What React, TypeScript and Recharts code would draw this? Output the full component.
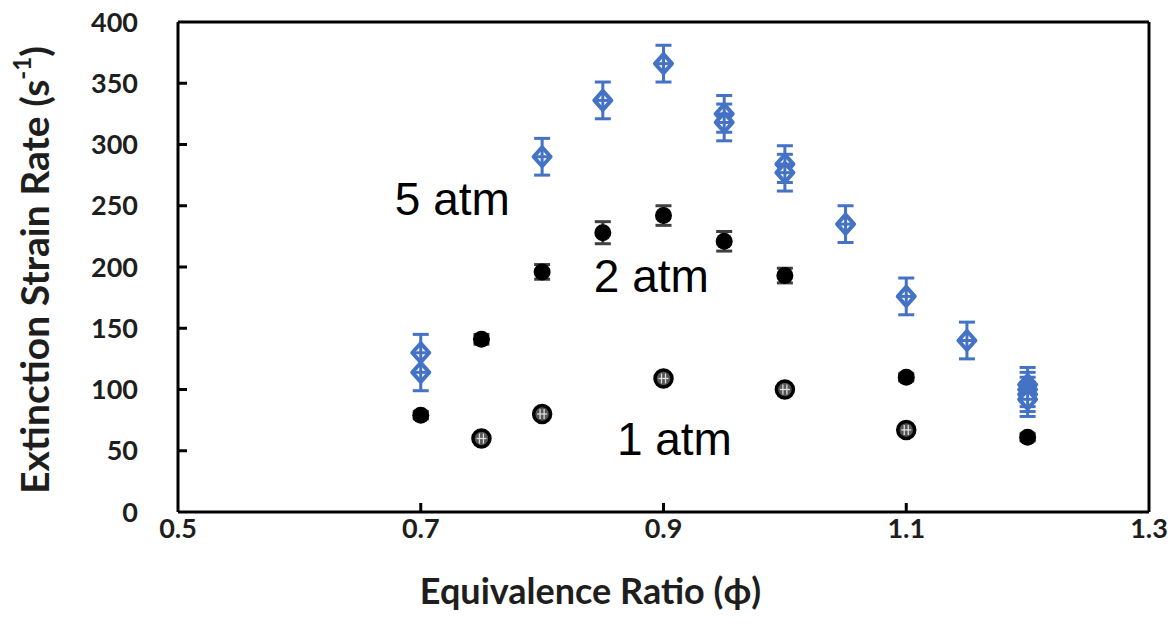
import {
  ScatterChart,
  Scatter,
  XAxis,
  YAxis,
  ErrorBar,
  ReferenceLine,
  ReferenceDot,
} from "recharts";

// 5 atm (blue diamonds)
const phi5 = [0.7, 0.7, 0.8, 0.85, 0.9, 0.95, 0.95, 1.0, 1.0, 1.05, 1.1, 1.15, 1.2, 1.2, 1.2, 1.2];
const rate5 = [130, 114, 290, 336, 366, 325, 318, 284, 277, 235, 176, 140, 104, 100, 96, 92];
const err5 = [15, 15, 15, 15, 15, 15, 15, 15, 15, 15, 15, 15, 14, 14, 14, 14];

// 2 atm (filled black circles)
const phi2 = [0.7, 0.75, 0.8, 0.85, 0.9, 0.95, 1.0, 1.1, 1.2];
const rate2 = [79, 141, 196, 228, 242, 221, 193, 110, 61];
const err2 = [3, 4, 6, 9, 8, 8, 6, 3, 3];

// 1 atm (open circles)
const phi1 = [0.75, 0.8, 0.9, 1.0, 1.1];
const rate1 = [60, 80, 109, 100, 67];
const err1 = [3, 3, 3, 3, 3];

const xTicks = [0.5, 0.7, 0.9, 1.1, 1.3];
const xInnerTicks = [0.7, 0.9, 1.1];
const yTicks = [0, 50, 100, 150, 200, 250, 300, 350, 400];
const yInnerTicks = [50, 100, 150, 200, 250, 300, 350];

const notes = [
  { text: "5 atm", phi: 0.726, rate: 256 },
  { text: "2 atm", phi: 0.89, rate: 193 },
  { text: "1 atm", phi: 0.909, rate: 60 },
];

const toRows = (xs: number[], ys: number[], es: number[]) =>
  xs.map((x, i) => ({ x, y: ys[i], err: es[i] }));

const data5 = toRows(phi5, rate5, err5);
const data2 = toRows(phi2, rate2, err2);
const data1 = toRows(phi1, rate1, err1);

// anchors for the inward tick marks on the bottom and left borders
const bottomTickRows = xInnerTicks.map((x) => ({ x, y: 0 }));
const leftTickRows = yInnerTicks.map((y) => ({ x: 0.5, y }));

const BLUE = "#4472C4";
const INK = "#1e1e1e";
const FONT = "Lato, 'Open Sans', sans-serif";
const TICK_LEN = 9;
const frame = { stroke: "#000", strokeWidth: 3 };

const DiamondMark = (props: any) => {
  const { cx, cy } = props;
  const r = 9.5;
  return (
    <g>
      <path
        d={`M${cx},${cy - r} L${cx + r - 1},${cy} L${cx},${cy + r} L${cx - r + 1},${cy} Z`}
        fill="#fff"
        stroke={BLUE}
        strokeWidth={4}
        strokeLinejoin="round"
      />
      <line x1={cx - 6} y1={cy} x2={cx + 6} y2={cy} stroke={BLUE} strokeWidth={3} />
      <line x1={cx} y1={cy - 7} x2={cx} y2={cy + 7} stroke={BLUE} strokeWidth={3} />
    </g>
  );
};

const FilledMark = (props: any) => {
  const { cx, cy } = props;
  return <circle cx={cx} cy={cy} r={8.5} fill="#000" />;
};

const OpenMark = (props: any) => {
  const { cx, cy } = props;
  return (
    <g>
      <circle cx={cx} cy={cy} r={8.5} fill="#555" stroke="#000" strokeWidth={3.5} />
      <line x1={cx - 2} y1={cy - 5} x2={cx - 2} y2={cy + 5} stroke="#ddd" strokeWidth={1.3} />
      <line x1={cx + 2} y1={cy - 5} x2={cx + 2} y2={cy + 5} stroke="#ddd" strokeWidth={1.3} />
      <line x1={cx - 5} y1={cy} x2={cx + 5} y2={cy} stroke="#ddd" strokeWidth={1.3} />
    </g>
  );
};

const UpTick = (props: any) => {
  const { cx, cy } = props;
  return <line x1={cx} y1={cy} x2={cx} y2={cy - TICK_LEN} stroke="#000" strokeWidth={3} />;
};

const RightTick = (props: any) => {
  const { cx, cy } = props;
  return <line x1={cx} y1={cy} x2={cx + TICK_LEN} y2={cy} stroke="#000" strokeWidth={3} />;
};

const YTitle = (props: any) => {
  const { viewBox } = props;
  const cy = viewBox.y + viewBox.height / 2 + 3;
  const cx = 34;
  return (
    <text
      x={cx}
      y={cy}
      transform={`rotate(-90, ${cx}, ${cy})`}
      textAnchor="middle"
      dominantBaseline="central"
      fontFamily={FONT}
      fontWeight={700}
      fontSize={39}
      fill={INK}
    >
      Extinction Strain Rate (s
      <tspan dy={-13} fontSize={24}>-1</tspan>
      <tspan dy={13}>)</tspan>
    </text>
  );
};

const XTitle = (props: any) => {
  const { viewBox } = props;
  const x = viewBox.x + viewBox.width / 2 - 73;
  return (
    <text
      x={x}
      y={590}
      textAnchor="middle"
      dominantBaseline="central"
      fontFamily={FONT}
      fontWeight={700}
      fontSize={36}
      fill={INK}
    >
      {"Equivalence Ratio (\u03d5)"}
    </text>
  );
};

const tickFont = { fontFamily: FONT, fontWeight: 700, fontSize: 27, fill: INK };

export default function App() {
  return (
    <div style={{ position: "absolute", left: 0, top: 0, background: "#fff" }}>
      <ScatterChart
        width={1174}
        height={638}
        margin={{ top: 22, right: 25, bottom: 0, left: 0 }}
      >
        <XAxis
          xAxisId="main"
          type="number"
          dataKey="x"
          domain={[0.5, 1.3]}
          ticks={xTicks}
          tickFormatter={(v) => Number(v).toFixed(1)}
          axisLine={frame}
          tickLine={false}
          tickSize={0}
          tickMargin={7}
          height={126}
          tick={tickFont}
          label={<XTitle />}
        />
        <YAxis
          yAxisId="main"
          type="number"
          dataKey="y"
          domain={[0, 400]}
          ticks={yTicks}
          axisLine={frame}
          tickLine={false}
          tickSize={0}
          tickMargin={40}
          width={178}
          tick={tickFont}
          label={<YTitle />}
        />
        <ReferenceLine xAxisId="main" yAxisId="main" y={400} {...frame} />
        <ReferenceLine xAxisId="main" yAxisId="main" x={1.3} {...frame} />
        <Scatter
          xAxisId="main"
          yAxisId="main"
          data={bottomTickRows}
          shape={UpTick}
          isAnimationActive={false}
        />
        <Scatter
          xAxisId="main"
          yAxisId="main"
          data={leftTickRows}
          shape={RightTick}
          isAnimationActive={false}
        />
        <Scatter
          xAxisId="main"
          yAxisId="main"
          data={data1}
          shape={OpenMark}
          isAnimationActive={false}
        >
          <ErrorBar dataKey="err" direction="y" width={5} stroke="#404040" strokeWidth={2} />
        </Scatter>
        <Scatter
          xAxisId="main"
          yAxisId="main"
          data={data2}
          shape={FilledMark}
          isAnimationActive={false}
        >
          <ErrorBar dataKey="err" direction="y" width={8} stroke="#404040" strokeWidth={3} />
        </Scatter>
        <Scatter
          xAxisId="main"
          yAxisId="main"
          data={data5}
          shape={DiamondMark}
          isAnimationActive={false}
        >
          <ErrorBar dataKey="err" direction="y" width={8} stroke={BLUE} strokeWidth={3} />
        </Scatter>
        {notes.map((n) => (
          <ReferenceDot
            key={n.text}
            xAxisId="main"
            yAxisId="main"
            x={n.phi}
            y={n.rate}
            r={1}
            fill="none"
            stroke="none"
            label={{
              value: n.text,
              position: "center",
              fontFamily: "'Liberation Sans', Arial, sans-serif",
              fontSize: 46,
              fill: "#000",
            }}
          />
        ))}
      </ScatterChart>
    </div>
  );
}
